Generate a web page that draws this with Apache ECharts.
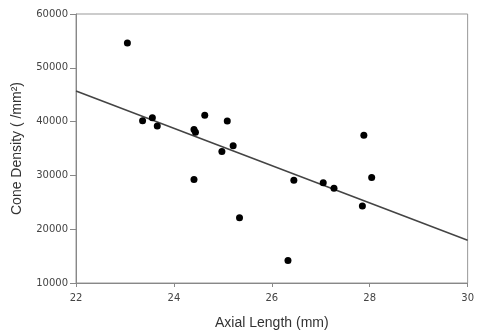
<!DOCTYPE html>
<html>
<head>
<meta charset="utf-8">
<script src="https://cdn.jsdelivr.net/npm/echarts@6/dist/echarts.min.js"></script>
<style>html,body{margin:0;padding:0;background:#fff;}#c{width:477px;height:335px;}</style>
</head>
<body>
<div id="c"></div>
<script>
var axialLength = [23.05, 23.36, 23.56, 23.66, 24.41, 24.44, 24.63, 25.09, 24.98, 25.21, 24.41, 25.34, 26.33, 26.45, 27.05, 27.27, 27.85, 27.88, 28.04];
var coneDensity = [54600, 40170, 40720, 39190, 38510, 38030, 41160, 40110, 34460, 35510, 29250, 22120, 14200, 29120, 28640, 27590, 24330, 37480, 29610];
var fitX = [22, 30];
var fitY = [45690, 17950];
var xTicks = [22, 24, 26, 28, 30];
var yTicks = [10000, 20000, 30000, 40000, 50000, 60000];

var pts = axialLength.map(function (x, i) { return [x, coneDensity[i]]; });
var fit = fitX.map(function (x, i) { return [x, fitY[i]]; });

var chart = echarts.init(document.getElementById('c'));
chart.setOption({
  animation: false,
  backgroundColor: '#fff',
  grid: { left: 76, right: 6, top: 14, bottom: 49, show: true, borderColor: '#999', borderWidth: 1 },
  xAxis: {
    type: 'value', min: xTicks[0], max: xTicks[xTicks.length - 1], interval: 2,
    name: 'Axial Length (mm)', nameLocation: 'middle', nameGap: 33,
    nameTextStyle: { fontFamily: 'Liberation Sans', fontSize: 14, color: '#333' },
    axisLine: { lineStyle: { color: '#888' } },
    axisTick: { show: true, length: 4, lineStyle: { color: '#888' } },
    axisLabel: { fontFamily: 'DejaVu Sans', fontSize: 10, color: '#444', margin: 10 },
    splitLine: { show: false }
  },
  yAxis: {
    type: 'value', min: yTicks[0], max: yTicks[yTicks.length - 1], interval: 10000,
    name: 'Cone Density ( /mm²)', nameLocation: 'middle', nameGap: 52, nameRotate: 90,
    nameTextStyle: { fontFamily: 'Liberation Sans', fontSize: 14, color: '#333' },
    axisLine: { show: true, lineStyle: { color: '#888' } },
    axisTick: { show: true, length: 6, lineStyle: { color: '#888' } },
    axisLabel: { fontFamily: 'DejaVu Sans', fontSize: 10, color: '#444', margin: 8,
      formatter: function (v) { return String(v); } },
    splitLine: { show: false }
  },
  series: [
    {
      type: 'line', data: fit, symbol: 'none', silent: true,
      lineStyle: { color: '#444', width: 1.5 }, z: 1
    },
    {
      type: 'scatter', data: pts, symbol: 'circle', symbolSize: 7,
      itemStyle: { color: '#000', opacity: 1 }, z: 2
    }
  ]
});
</script>
</body>
</html>
